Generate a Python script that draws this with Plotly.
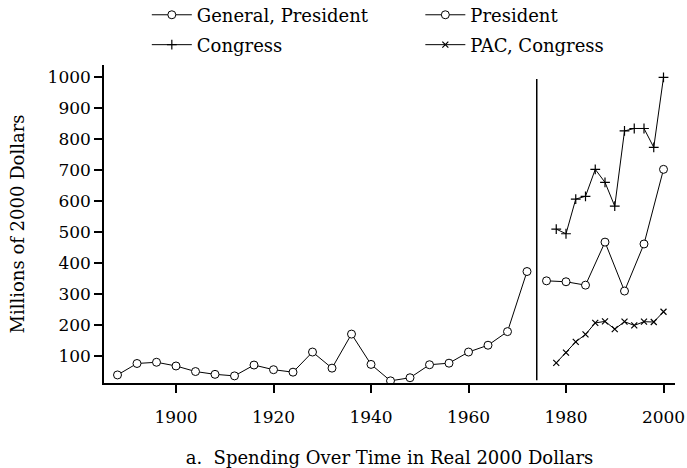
import plotly.graph_objects as go

# Data
gen_years = [1888, 1892, 1896, 1900, 1904, 1908, 1912, 1916, 1920, 1924, 1928,
             1932, 1936, 1940, 1944, 1948, 1952, 1956, 1960, 1964, 1968, 1972]
gen_values = [39, 76, 80, 68, 50, 41, 36, 71, 56, 48, 113,
              61, 171, 73, 20, 30, 72, 77, 113, 135, 179, 373]

pres_years = [1976, 1980, 1984, 1988, 1992, 1996, 2000]
pres_values = [343, 340, 329, 468, 310, 462, 703]

cong_years = [1978, 1980, 1982, 1984, 1986, 1988, 1990, 1992, 1994, 1996, 1998, 2000]
cong_values = [510, 495, 607, 616, 703, 661, 584, 827, 835, 835, 774, 1000]

pac_years = [1978, 1980, 1982, 1984, 1986, 1988, 1990, 1992, 1994, 1996, 1998, 2000]
pac_values = [78, 111, 146, 170, 207, 212, 187, 211, 199, 211, 210, 243]

divider_year = 1974
divider_span = [22, 995]

x_ticks = [1900, 1920, 1940, 1960, 1980, 2000]
y_ticks = [100, 200, 300, 400, 500, 600, 700, 800, 900, 1000]

FONT = "DejaVu Serif"

fig = go.Figure()
fig.add_trace(go.Scatter(x=gen_years, y=gen_values, mode="lines+markers",
                         name="General, President", legend="legend",
                         line=dict(color="black", width=1),
                         marker=dict(symbol="circle", size=8, color="white",
                                     line=dict(width=1, color="black"))))
fig.add_trace(go.Scatter(x=pres_years, y=pres_values, mode="lines+markers",
                         name="President", legend="legend2",
                         line=dict(color="black", width=1),
                         marker=dict(symbol="circle", size=8, color="white",
                                     line=dict(width=1, color="black"))))
fig.add_trace(go.Scatter(x=cong_years, y=cong_values, mode="lines+markers",
                         name="Congress", legend="legend3",
                         line=dict(color="black", width=1),
                         marker=dict(symbol="cross-thin", size=7, color="black",
                                     line=dict(width=1.2, color="black"))))
fig.add_trace(go.Scatter(x=pac_years, y=pac_values, mode="lines+markers",
                         name="PAC, Congress", legend="legend4",
                         line=dict(color="black", width=1),
                         marker=dict(symbol="x-thin", size=6, color="black",
                                     line=dict(width=1.2, color="black"))))

fig.add_shape(type="line", xref="x", yref="y",
              x0=divider_year, x1=divider_year, y0=divider_span[0], y1=divider_span[1],
              line=dict(color="black", width=1.5))

leg_common = dict(xanchor="left", yanchor="middle",
                  font=dict(family=FONT, size=18, color="black"),
                  bgcolor="rgba(0,0,0,0)", itemwidth=40)

fig.update_layout(
    width=687, height=468,
    margin=dict(l=104, r=12, t=65, b=85, autoexpand=False),
    paper_bgcolor="white", plot_bgcolor="white",
    font=dict(family=FONT, size=17, color="black"),
    showlegend=True,
    legend=dict(x=0.075, y=1.157, **leg_common),
    legend2=dict(x=0.554, y=1.157, **leg_common),
    legend3=dict(x=0.075, y=1.063, **leg_common),
    legend4=dict(x=0.554, y=1.063, **leg_common),
    xaxis=dict(range=[1885.23, 2002.36], tickvals=x_ticks,
               showline=True, linecolor="black", linewidth=1.5,
               ticks="outside", ticklen=8, tickcolor="black", tickwidth=1.5,
               showgrid=False, zeroline=False, ticklabelstandoff=10,
               tickfont=dict(family=FONT, size=17),
               title=dict(text="a.  Spending Over Time in Real 2000 Dollars",
                          font=dict(family=FONT, size=18), standoff=28)),
    yaxis=dict(range=[13, 1040], tickvals=y_ticks,
               showline=True, linecolor="black", linewidth=1.5,
               ticks="outside", ticklen=8, tickcolor="black", tickwidth=1.5,
               showgrid=False, zeroline=False,
               tickfont=dict(family=FONT, size=17),
               title=dict(text="Millions of 2000 Dollars",
                          font=dict(family=FONT, size=18), standoff=18)),
)

fig.write_html("out.html",
               config={"displayModeBar": False},
               post_script="document.body.style.margin='0';document.body.style.padding='0';")
